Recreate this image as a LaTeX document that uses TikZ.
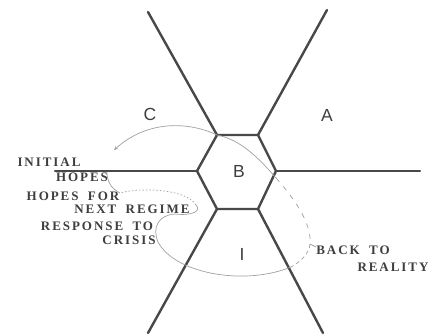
\documentclass[tikz,border=0pt]{standalone}
\usepackage{fontspec}
\setmainfont{Liberation Serif}
\newfontfamily\capsfont{Liberation Serif}[LetterSpace=15, WordSpace=1.8]
\newfontfamily\regionfont{Liberation Sans}
\usetikzlibrary{arrows.meta}
\definecolor{cwall}{RGB}{72,72,72}
\definecolor{cpath}{RGB}{160,160,160}
\definecolor{ctext}{RGB}{62,62,62}

\begin{document}
\begin{tikzpicture}[x=1pt,y=-1pt,
  wall/.style={cwall, line width=2.4pt, line cap=round, line join=round},
  trail/.style={cpath, line width=0.7pt},
  lbl/.style={font=\capsfont\bfseries\fontsize{13}{13}\selectfont, text=ctext,
              inner sep=0pt},
  region/.style={font=\regionfont\fontsize{17.5}{17.5}\selectfont, text=ctext,
                 inner sep=0pt},
]
\useasboundingbox (0,0) rectangle (440,336);
% --- central hexagon and its spokes -----------------------------------
\coordinate (hnw) at (217,135);
\coordinate (hne) at (258,135);
\coordinate (he)  at (276,171);
\coordinate (hse) at (258,209);
\coordinate (hsw) at (217,209);
\coordinate (hw)  at (197,171);
\coordinate (snw) at (148,12);
\coordinate (sne) at (327,10);
\coordinate (se)  at (420,171);
\coordinate (sse) at (323,333);
\coordinate (ssw) at (148,333);
\coordinate (sw)  at (55,171);
\draw[wall] (hnw) -- (hne) -- (he) -- (hse) -- (hsw) -- (hw) -- cycle;
\foreach \a/\b in {hnw/snw, hne/sne, he/se, hse/sse, hsw/ssw, hw/sw}
  \draw[wall] (\a) -- (\b);

% --- region letters ----------------------------------------------------
\node[region] (regC) at (150,114) {C};
\node[region] (regA) at (327,115) {A};
\node[region] (regB) at (239,171) {B};
\node[region] (regI) at (242,254) {I};

% --- stage labels ------------------------------------------------------
\node[lbl] (initial)    at (49,162) {INITIAL};
\node[lbl] (hopes)      at (82,177) {HOPES};
\node[lbl] (hopesfor)   at (73,196) {HOPES FOR};
\node[lbl] (nextregime) at (132,209) {NEXT REGIME};
\node[lbl] (response)   at (97,226) {RESPONSE TO};
\node[lbl] (crisis)     at (129,240) {CRISIS};
\node[lbl] (backto)     at (353,250) {BACK TO};
\node[lbl] (reality)    at (393,267) {REALITY};

% --- the trail round the regions ---------------------------------------
\coordinate (tin)   at (276,178);
\coordinate (tarr)  at (114,150);
\coordinate (tback) at (310,244);
\coordinate (ttick) at (316,247);
\coordinate (tbot)  at (291,267);
\coordinate (tcurl) at (175,214);
\coordinate (ttop)  at (196,205);
\coordinate (thope) at (120,193);
\coordinate (tend)  at (107,172);
\draw[trail, -{Stealth[length=4pt,width=3.5pt]}]
  (tin) .. controls (252,150) and (236,139) .. (hnw)
  .. controls (192,123) and (150,118) .. (tarr);
\draw[trail, dashed, dash pattern=on 5pt off 6pt]
  (tin) .. controls (292,196) and (312,222) .. (tback);
\draw[trail, dashed, dash pattern=on 4pt off 3pt]
  (tback) .. controls (309,254) and (300,262) .. (tbot);
\draw[trail] (tback) -- (ttick);
\draw[trail] (tbot) .. controls (245,286) and (175,274) .. (158,242)
  .. controls (152,228) and (158,215) .. (tcurl)
  .. controls (192,216) and (202,211) .. (ttop);
\draw[trail, dashed, dash pattern=on 1.5pt off 2pt]
  (ttop) .. controls (186,189) and (142,187) .. (thope);
\draw[trail] (thope) .. controls (110,188) and (107,180) .. (tend);
\end{tikzpicture}
\end{document}
